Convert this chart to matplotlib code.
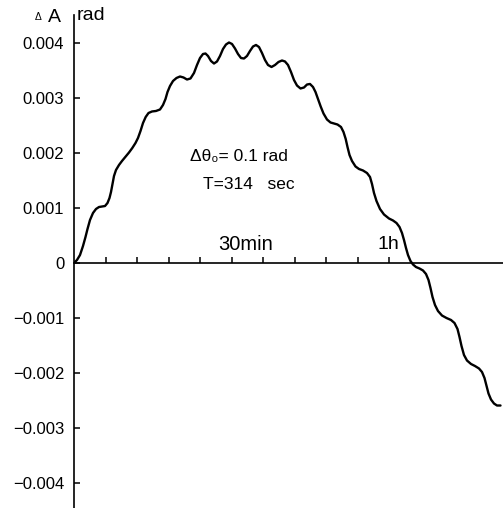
import matplotlib
matplotlib.use("Agg")
import matplotlib.pyplot as plt

plt.rcParams['font.family'] = ['Liberation Sans', 'DejaVu Sans']

# time in minutes, amplitude change in 1e-3 rad
t_min = [0, 0.571, 1.143, 1.714, 2.190, 2.571, 3.048, 3.619, 4.190, 4.762,
         5.333, 5.905, 6.381, 6.762, 7.048, 7.333, 7.619, 8.0, 8.571, 9.143,
         9.848, 10.476, 11.105, 11.714, 12.190, 12.667, 13.143, 13.657, 14.190, 14.857,
         15.619, 16.381, 16.952, 17.429, 17.810, 18.286, 18.857, 19.524, 20.190, 20.857,
         21.524, 22.190, 22.857, 23.429, 24.0, 24.571, 25.048, 25.524, 26.095, 26.667,
         27.238, 27.810, 28.381, 28.952, 29.524, 30.095, 30.667, 31.238, 31.810, 32.381,
         32.952, 33.524, 34.095, 34.667, 35.238, 35.810, 36.381, 36.952, 37.619, 38.286,
         38.952, 39.619, 40.190, 40.762, 41.333, 41.905, 42.476, 43.143, 43.810, 44.381,
         44.952, 45.524, 46.0, 46.476, 46.990, 47.524, 48.190, 48.857, 49.524, 50.190,
         50.857, 51.333, 51.752, 52.095, 52.476, 52.952, 53.619, 54.286, 55.048, 55.810,
         56.381, 56.762, 57.143, 57.619, 58.286, 59.048, 60.0, 60.762, 61.429, 62.0,
         62.476, 62.857, 63.238, 63.619, 64.095, 64.571, 65.143, 65.810, 66.476, 67.048,
         67.524, 67.905, 68.286, 68.762, 69.333, 70.095, 70.952, 71.810, 72.476, 73.048,
         73.429, 73.810, 74.286, 74.857, 75.619, 76.381, 77.143, 77.714, 78.190, 78.571,
         78.952, 79.429, 80.0, 80.571, 81.238]
dA = [0, 0.055, 0.145, 0.309, 0.473, 0.618, 0.782, 0.909, 0.982, 1.018,
      1.027, 1.036, 1.091, 1.182, 1.291, 1.436, 1.582, 1.691, 1.782, 1.855,
      1.936, 2.009, 2.091, 2.182, 2.273, 2.4, 2.545, 2.655, 2.727, 2.755,
      2.764, 2.791, 2.873, 2.982, 3.109, 3.218, 3.309, 3.364, 3.391, 3.373,
      3.336, 3.355, 3.455, 3.6, 3.727, 3.8, 3.809, 3.764, 3.673, 3.627,
      3.664, 3.764, 3.891, 3.973, 4.009, 3.982, 3.9, 3.8, 3.727, 3.718,
      3.764, 3.855, 3.936, 3.964, 3.927, 3.818, 3.691, 3.6, 3.564, 3.6,
      3.655, 3.682, 3.664, 3.6, 3.473, 3.327, 3.227, 3.173, 3.191, 3.245,
      3.255, 3.2, 3.109, 2.982, 2.845, 2.718, 2.609, 2.555, 2.536, 2.518,
      2.473, 2.382, 2.255, 2.109, 1.964, 1.855, 1.755, 1.709, 1.682, 1.636,
      1.564, 1.436, 1.273, 1.127, 0.982, 0.882, 0.809, 0.773, 0.727, 0.655,
      0.545, 0.418, 0.273, 0.145, 0.036, -0.027, -0.073, -0.1, -0.136, -0.2,
      -0.309, -0.455, -0.618, -0.764, -0.873, -0.955, -1.0, -1.036, -1.091, -1.2,
      -1.345, -1.509, -1.673, -1.773, -1.836, -1.873, -1.918, -1.982, -2.091, -2.236,
      -2.373, -2.482, -2.555, -2.591, -2.591]

y_ticks = [-0.004, -0.003, -0.002, -0.001, 0, 0.001, 0.002, 0.003, 0.004]
y_labels = ["\u22120.004", "\u22120.003", "\u22120.002", "\u22120.001", "0",
            "0.001", "0.002", "0.003", "0.004"]
x_ticks = [6, 12, 18, 24, 30, 36, 42, 48, 54, 60]

W, H = 503, 508
fig = plt.figure(figsize=(W / 100, H / 100), dpi=100)
fig.patch.set_facecolor("white")
ax = fig.add_axes([74 / W, 0, 1 - 74 / W, (H - 15) / H])

ax.plot(t_min, [v * 1e-3 for v in dA], color="black", lw=1.7,
        solid_joinstyle="round", solid_capstyle="round")

ax.set_xlim(0, (W - 74) / 5.25)
ax.set_ylim(-(508 - 263) / 55 * 1e-3, (263 - 15) / 55 * 1e-3)

for s in ("top", "right"):
    ax.spines[s].set_visible(False)
ax.spines["bottom"].set_position(("data", 0))
for s in ("left", "bottom"):
    ax.spines[s].set_linewidth(1.2)

ax.set_xticks(x_ticks)
ax.set_xticklabels([])
ax.tick_params(axis="x", direction="in", length=4, width=1.1)
ax.set_yticks(y_ticks)
ax.set_yticklabels(y_labels, fontsize=12)
ax.tick_params(axis="y", direction="in", length=4, width=1.1, pad=7)

ax.text(27.4, 0.345e-3, "30min", fontsize=14.5, ha="left", va="center")
ax.text(57.9, 0.345e-3, "1h", fontsize=14, ha="left", va="center")
ax.text(22.1, 1.94e-3, "\u0394\u03b8\u2080= 0.1 rad", fontsize=12.5,
        ha="left", va="center")
ax.text(24.6, 1.42e-3, "T=314   sec", fontsize=12.5, ha="left", va="center")

fig.text(35 / W, 1 - 17 / H, "\u0394", fontsize=7.5, ha="left", va="center")
fig.text(48 / W, 1 - 17 / H, "A", fontsize=14, ha="left", va="center")
fig.text(77 / W, 1 - 16 / H, "rad", fontsize=14, ha="left", va="center")

fig.savefig("out.png", dpi=100, facecolor="white")
